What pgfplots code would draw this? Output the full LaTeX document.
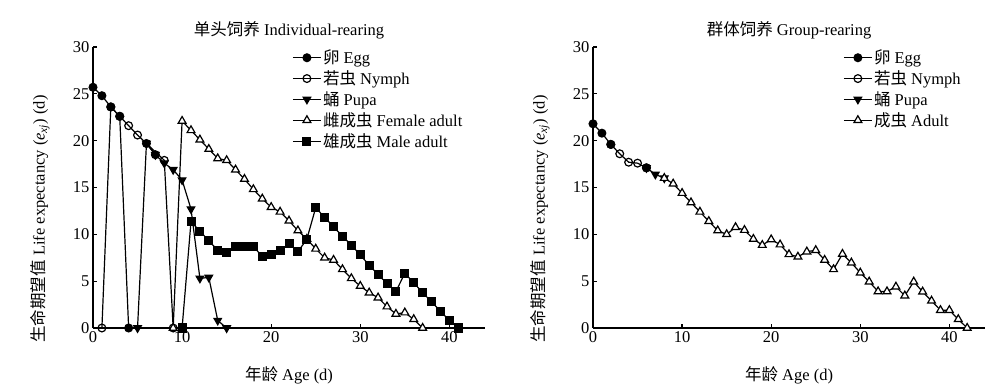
\documentclass[border=0pt]{standalone}
\usepackage{fontspec}
\setmainfont{Liberation Serif}
\newfontfamily\cjk{Noto Sans CJK SC}
\usepackage{pgfplots}
\pgfplotsset{compat=1.18}
\newcommand{\fs}{\fontsize{16.5bp}{19bp}\selectfont}
\pgfplotsset{
  myaxis/.style={
    scale only axis, width=392bp, height=281bp,
    xmin=0, xmax=44, ymin=0, ymax=30,
    axis x line*=bottom, axis y line*=left,
    axis line style={line width=1.9bp},
    xtick={0,10,20,30,40}, ytick={0,5,10,15,20,25,30},
    tick align=inside, major tick length=4bp,
    tick style={black, line width=1.2bp},
    /pgf/number format/assume math mode=true,
    ticklabel style={font=\fs},
    clip=false,
    unbounded coords=jump,
    every axis title/.style={at={(axis description cs:0.5,1)}, anchor=center, yshift=17bp, font=\fs},
    every axis x label/.style={at={(axis description cs:0.5,0)}, anchor=center, yshift=-47bp, font=\fs},
    every axis y label/.style={at={(axis description cs:-0.1352,0.388)}, rotate=90, anchor=center, font=\fs},
    legend style={draw=none, fill=none, font=\fs, anchor=north west, inner sep=0pt, row sep=2.5bp,
      nodes={inner sep=1.5bp}},
    legend cell align=left,
    legend image code/.code={\draw[mark repeat=2,mark phase=2,##1] plot coordinates {(0bp,0bp) (14bp,0bp) (28bp,0bp)};},
    xlabel={{\cjk 年龄} Age (d)},
    ylabel={{\cjk 生命期望值} Life expectancy (\textit{e}\textsubscript{\textit{xj}}) (d)},
  },
  egg/.style={black, line width=1.2bp, mark=*, mark size=3.9bp, mark options={fill=black, solid}},
  nymph/.style={black, line width=1.2bp, mark=o, mark size=3.9bp, mark options={fill=white, solid}},
  pupa/.style={black, line width=1.2bp, mark=triangle*, mark size=4.3bp, mark options={fill=black, rotate=180, solid}},
  fem/.style={black, line width=1.2bp, mark=triangle*, mark size=4.5bp, mark options={fill=white, solid}},
  male/.style={black, line width=1.2bp, mark=square*, mark size=3.9bp, mark options={fill=black, solid}},
}
\begin{document}
\begin{tikzpicture}
\useasboundingbox (0,0) rectangle (1000bp,391bp);
% ---------------- Left: individual rearing
\begin{axis}[myaxis, at={(93bp,63bp)}, anchor=south west,
  title={{\cjk 单头饲养} Individual-rearing},
  legend style={at={(axis description cs:0.508,0.995)}}]
\addlegendimage{egg}\addlegendentry{{\cjk 卵} Egg}
\addlegendimage{nymph}\addlegendentry{{\cjk 若虫} Nymph}
\addlegendimage{pupa}\addlegendentry{{\cjk 蛹} Pupa}
\addlegendimage{fem}\addlegendentry{{\cjk 雌成虫} Female adult}
\addlegendimage{male}\addlegendentry{{\cjk 雄成虫} Male adult}
% pupa
\addplot[pupa, forget plot] coordinates {(5,0) (6,19.7) (7,18.5) (8,17.6) (9,16.9) (10,15.8) (11,12.7) (12,5.3) (13,5.4) (14,0.8) (15,0)};
% female adult
\addplot[fem, forget plot] coordinates {(9,0) (10,22.1) (11,21.1) (12,20.1) (13,19.1) (14,18.1) (15,17.9) (16,16.9) (17,15.9) (18,14.8) (19,13.8) (20,12.9) (21,12.4) (22,11.45) (23,10.4) (24,9.5) (25,8.45) (26,7.5) (27,7.26) (28,6.26) (29,5.3) (30,4.48) (31,3.77) (32,3.24) (33,2.28) (34,1.5) (35,1.64) (36,0.93) (37,0)};
% male adult
\addplot[male, forget plot] coordinates {(10,0) (11,11.35) (12,10.35) (13,9.3) (14,8.3) (15,8.04) (16,8.75) (17,8.75) (18,8.75) (19,7.6) (20,7.8) (21,8.25) (22,9.0) (23,8.15) (24,9.47) (25,12.85) (26,11.8) (27,10.8) (28,9.8) (29,8.86) (30,7.8) (31,6.7) (32,5.7) (33,4.77) (34,3.9) (35,5.84) (36,4.84) (37,3.77) (38,2.8) (39,1.8) (40,0.8) (41,0)};
% egg
\addplot[egg, forget plot] coordinates {(0,25.7) (1,24.8) (2,23.6) (3,22.6) (4,0) (5,nan) (6,19.7) (7,18.5)};
% nymph
\addplot[nymph, forget plot] coordinates {(1,0) (2,23.6) (3,22.6) (4,21.6) (5,20.6) (8,17.9) (9,0)};
\end{axis}
% ---------------- Right: group rearing
\begin{axis}[myaxis, at={(593bp,63bp)}, anchor=south west,
  title={{\cjk 群体饲养} Group-rearing},
  legend style={at={(axis description cs:0.638,0.995)}}]
\addlegendimage{egg}\addlegendentry{{\cjk 卵} Egg}
\addlegendimage{nymph}\addlegendentry{{\cjk 若虫} Nymph}
\addlegendimage{pupa}\addlegendentry{{\cjk 蛹} Pupa}
\addlegendimage{fem}\addlegendentry{{\cjk 成虫} Adult}
\addplot[nymph, forget plot] coordinates {(2,19.6) (3,18.6) (4,17.7) (5,17.6) (6,17.1)};
\addplot[pupa, forget plot] coordinates {(6,17.1) (7,16.4) (8,16.0)};
\addplot[egg, forget plot] coordinates {(0,21.8) (1,20.8) (2,19.6) (3,nan) (6,17.1)};
\addplot[fem, forget plot] coordinates {(8,16.0) (9,15.4) (10,14.4) (11,13.4) (12,12.4) (13,11.4) (14,10.4) (15,10.0) (16,10.75) (17,10.45) (18,9.5) (19,8.85) (20,9.45) (21,8.9) (22,7.86) (23,7.6) (24,8.15) (25,8.3) (26,7.26) (27,6.26) (28,7.9) (29,6.97) (30,5.9) (31,4.94) (32,3.9) (33,3.9) (34,4.4) (35,3.45) (36,4.94) (37,3.87) (38,2.9) (39,1.9) (40,1.9) (41,0.93) (42,0)};
\end{axis}
\end{tikzpicture}
\end{document}
